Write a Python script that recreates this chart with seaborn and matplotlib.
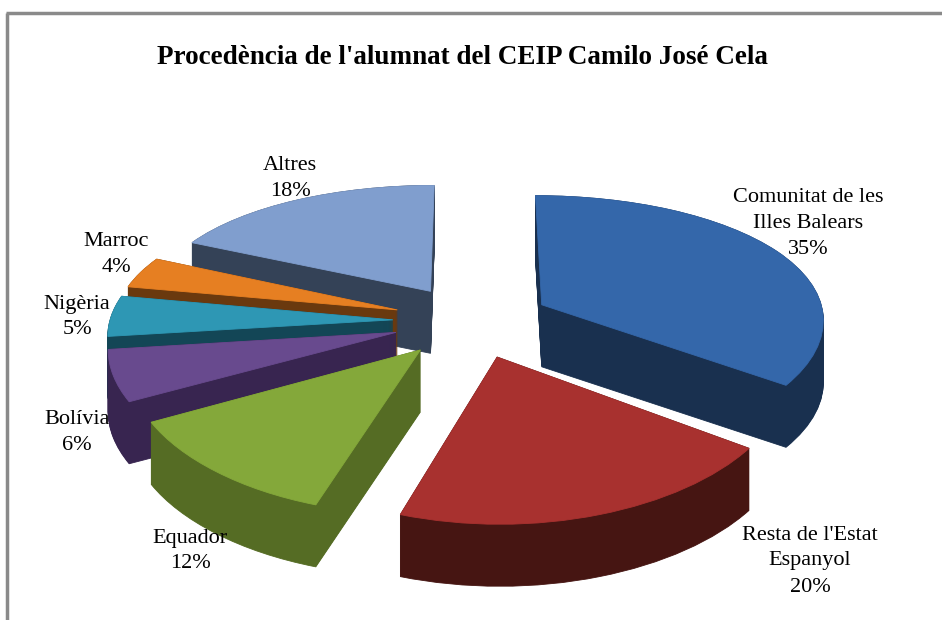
import numpy as np
import matplotlib
matplotlib.use("Agg")
import matplotlib.pyplot as plt
import matplotlib.transforms as mtransforms
from matplotlib.path import Path
import seaborn as sns

# ---------------- data ----------------
categories = ["Comunitat de les\nIlles Balears", "Resta de l'Estat\nEspanyol",
              "Equador", "Bolívia", "Nigèria", "Marroc", "Altres"]
values = [35, 20, 12, 6, 5, 4, 18]
pct_labels = ["35%", "20%", "12%", "6%", "5%", "4%", "18%"]
title = "Procedència de l'alumnat del CEIP Camilo José Cela"

# ---------------- style ----------------
top_colors = ["#3467aa", "#a8312f", "#84a83a", "#684a8e", "#2e97b4", "#e67f22", "#809ece"]
side_colors = ["#19304f", "#461512", "#556c24", "#382550", "#134656", "#6a390e", "#344257"]
explode = [0.28] * len(values)
label_pos = [(808, 223), (810, 561), (190, 551), (77, 432), (77, 317), (116, 255), (290, 178)]

sns.set_theme(style="white")
plt.rcParams['font.family'] = ['Liberation Serif', 'DejaVu Serif']

fig = plt.figure(figsize=(9.42, 6.2), dpi=100)
fig.patch.set_facecolor("white")
ax = fig.add_axes([0, 0, 1, 1])


class Persp(mtransforms.Transform):
    """Perspective projection of the pie plane onto the page."""
    input_dims = 2
    output_dims = 2
    is_separable = False
    has_inverse = False

    def __init__(self, cx, cy, rx, ry, kx, ky, h):
        super().__init__()
        self.p = (cx, cy, rx, ry, kx, ky, h)

    def transform_non_affine(self, values):
        cx, cy, rx, ry, kx, ky, h = self.p
        v = np.asarray(values, float)
        x, y = v[:, 0], v[:, 1]
        return np.column_stack([cx + rx * x / (1.0 + kx * y),
                                cy - ry * y / (1.0 + ky * y) + h])

    def transform_path_non_affine(self, path):
        return Path(self.transform_non_affine(path.vertices), path.codes)


CX, CY, RX, RY, KX, KY = 472, 321, 283, 130, 0.10, 0.15
DEPTH = 62
NLAYERS = 63

# painter's order: back slices first
tot = float(sum(values))
cum = np.cumsum([0] + values[:-1])
mids = np.deg2rad(90 - 360 * (cum + np.array(values) / 2) / tot)
order = np.argsort(-np.sin(mids))
rank = {int(i): r for r, i in enumerate(order)}

layers = list(np.linspace(DEPTH, 0, NLAYERS))
for li, h in enumerate(layers + [0.0]):
    is_top = li == len(layers)
    cols = top_colors if is_top else side_colors
    wedges, _ = ax.pie(values, explode=explode, startangle=90, counterclock=False,
                       colors=cols, radius=1.0, frame=True,
                       wedgeprops=dict(linewidth=0.6))
    tr = Persp(CX, CY, RX, RY, KX, KY, h) + ax.transData
    for i, w in enumerate(wedges):
        w.set_edgecolor(w.get_facecolor())
        w.set_transform(tr)
        w.set_zorder(10 + rank[i] * 200 + li)

ax.set_aspect('auto')
ax.set_xlim(0, 942)
ax.set_ylim(620, 0)
ax.axis('off')

for i, (cat, pct) in enumerate(zip(categories, pct_labels)):
    x, y = label_pos[i]
    ax.text(x, y, f"{cat}\n{pct}", ha='center', va='center', fontsize=16,
            linespacing=1.5, color='black', zorder=5000)

ax.text(462, 57, title, ha='center', va='center', fontsize=19.5,
        fontweight='bold', color='black', zorder=5000)

# outer frame of the chart area
ax.plot([6, 942], [13, 13], color='#8a8a8a', lw=2.5, solid_capstyle='butt', zorder=6000, clip_on=False)
ax.plot([7, 7], [13, 620], color='#8a8a8a', lw=2.5, solid_capstyle='butt', zorder=6000, clip_on=False)

fig.savefig("out.png", dpi=100, facecolor="white")
